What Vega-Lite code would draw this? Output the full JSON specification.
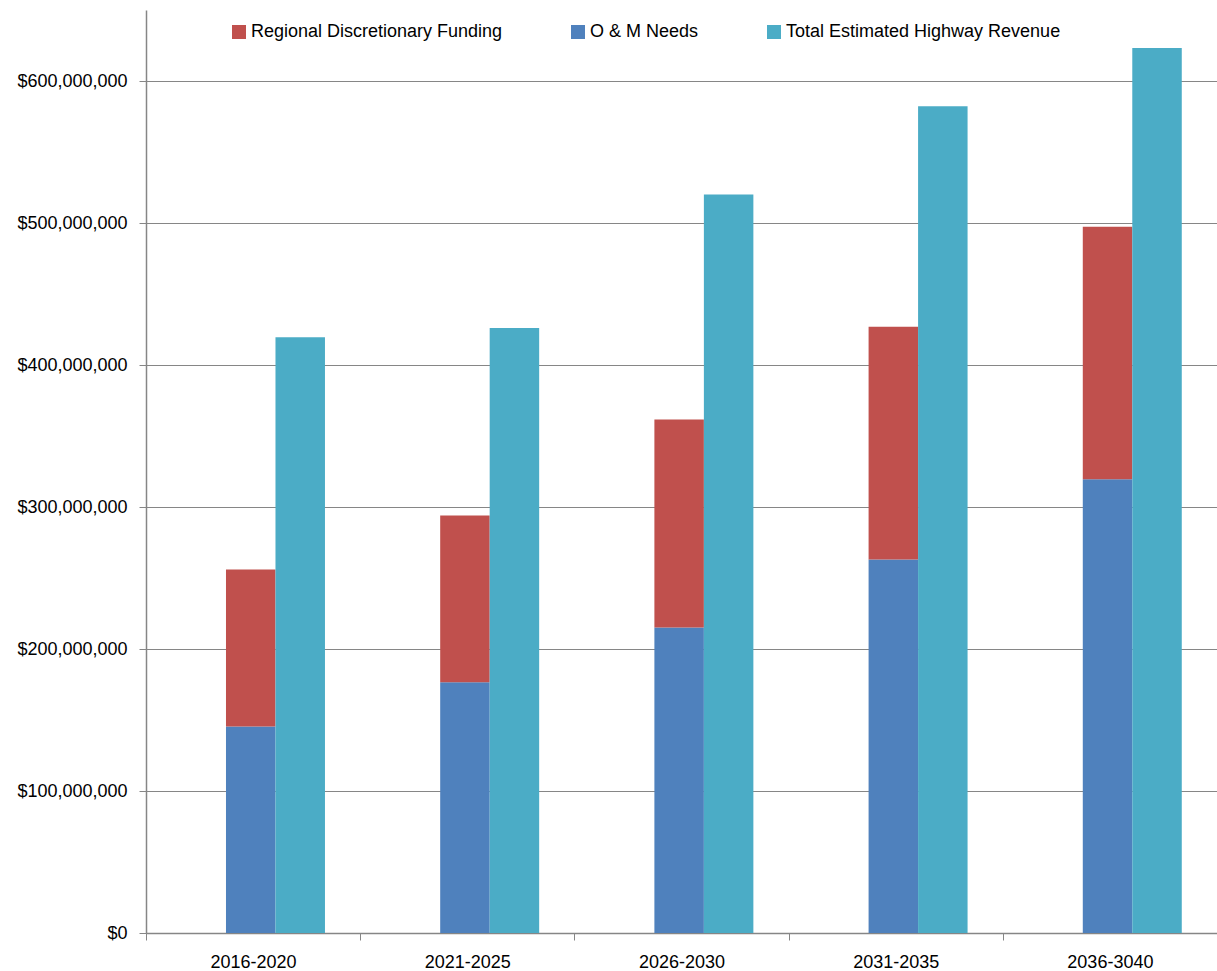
{
  "$schema": "https://vega.github.io/schema/vega-lite/v6.json",
  "width": 1071,
  "height": 923,
  "autosize": {"type": "none"},
  "padding": {"left": 146, "top": 10, "right": 0, "bottom": 38},
  "background": "white",
  "config": {
    "view": {"stroke": null},
    "font": "Liberation Sans",
    "axis": {"labelFont": "Liberation Sans", "labelFontSize": 18, "labelColor": "#000000", "domainColor": "#868686", "tickColor": "#868686", "gridColor": "#868686", "titleFontSize": 18}
  },
  "data": {
    "values": [
      {"period": "2016-2020", "series": "O & M Needs", "group": "stack", "value": 145500000},
      {"period": "2016-2020", "series": "Regional Discretionary Funding", "group": "stack", "value": 110500000},
      {"period": "2016-2020", "series": "Total Estimated  Highway Revenue", "group": "total", "value": 419500000},
      {"period": "2021-2025", "series": "O & M Needs", "group": "stack", "value": 176500000},
      {"period": "2021-2025", "series": "Regional Discretionary Funding", "group": "stack", "value": 117500000},
      {"period": "2021-2025", "series": "Total Estimated  Highway Revenue", "group": "total", "value": 426000000},
      {"period": "2026-2030", "series": "O & M Needs", "group": "stack", "value": 215200000},
      {"period": "2026-2030", "series": "Regional Discretionary Funding", "group": "stack", "value": 146500000},
      {"period": "2026-2030", "series": "Total Estimated  Highway Revenue", "group": "total", "value": 520000000},
      {"period": "2031-2035", "series": "O & M Needs", "group": "stack", "value": 263000000},
      {"period": "2031-2035", "series": "Regional Discretionary Funding", "group": "stack", "value": 164000000},
      {"period": "2031-2035", "series": "Total Estimated  Highway Revenue", "group": "total", "value": 582300000},
      {"period": "2036-3040", "series": "O & M Needs", "group": "stack", "value": 319500000},
      {"period": "2036-3040", "series": "Regional Discretionary Funding", "group": "stack", "value": 177800000},
      {"period": "2036-3040", "series": "Total Estimated  Highway Revenue", "group": "total", "value": 623200000}
    ]
  },
  "mark": {"type": "bar"},
  "encoding": {
    "x": {
      "field": "period",
      "type": "nominal",
      "sort": null,
      "scale": {"paddingInner": 0, "paddingOuter": 0},
      "axis": {"title": null, "labelAngle": 0, "tickBand": "extent", "tickSize": 7, "labelPadding": 13, "domainWidth": 1.5, "grid": false}
    },
    "xOffset": {
      "field": "group",
      "type": "nominal",
      "scale": {"domain": ["spacer", "stack", "total"], "paddingInner": 0, "paddingOuter": 0.664, "align": 0.464}
    },
    "y": {
      "field": "value",
      "type": "quantitative",
      "stack": "zero",
      "scale": {"domain": [0, 650000000], "nice": false},
      "axis": {"title": null, "values": [0, 100000000, 200000000, 300000000, 400000000, 500000000, 600000000], "format": "$,.0f", "tickSize": 7, "labelPadding": 12, "grid": true, "gridWidth": 1.2, "domainWidth": 1.5}
    },
    "color": {
      "field": "series",
      "type": "nominal",
      "scale": {
        "domain": ["Regional Discretionary Funding", "O & M Needs", "Total Estimated  Highway Revenue"],
        "range": ["#C0504D", "#4F81BD", "#4BACC6"]
      },
      "legend": {
        "title": null,
        "orient": "none",
        "legendX": 84,
        "legendY": 13,
        "direction": "horizontal",
        "columns": 3,
        "columnPadding": 66,
        "symbolType": "square",
        "symbolSize": 196,
        "symbolStrokeWidth": 0,
        "labelFontSize": 18,
        "labelColor": "#000000",
        "labelOffset": 3,
        "labelLimit": 400
      }
    },
    "order": {"field": "series", "sort": "ascending"}
  }
}
